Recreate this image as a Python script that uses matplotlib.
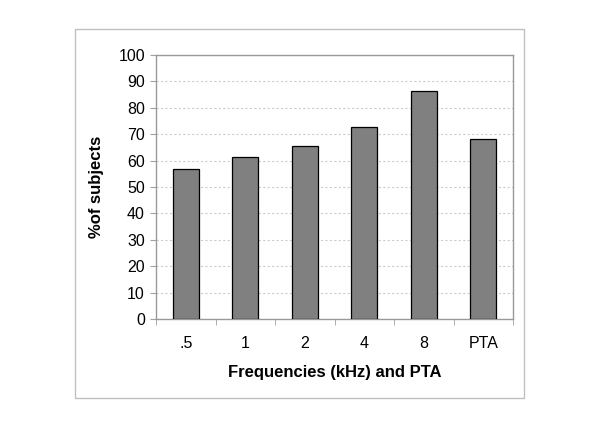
import matplotlib
matplotlib.use("Agg")
import matplotlib.pyplot as plt
from matplotlib.patches import Rectangle
import numpy as np

plt.rcParams["font.family"] = ["Liberation Sans", "DejaVu Sans"]

categories = [".5", "1", "2", "4", "8", "PTA"]
pct_subjects = [56.8, 61.2, 65.5, 72.6, 86.4, 68.2]
y_ticks = list(range(0, 101, 10))

fig = plt.figure(figsize=(6.0, 4.23), dpi=100)

# outer light frame round the chart
fig.patches.append(Rectangle((75 / 600, 1 - 398 / 423), 449 / 600, 369 / 423,
                             transform=fig.transFigure, fill=False,
                             edgecolor="#c0c0c0", lw=1.0))

ax = fig.add_axes([156 / 600, 1 - 319 / 423, 357 / 600, 264 / 423])
x = np.arange(len(categories))
ax.bar(x, pct_subjects, width=0.43, color="#808080", edgecolor="black",
       linewidth=0.9, zorder=3)

ax.set_xlim(-0.5, len(categories) - 0.5)
ax.set_ylim(0, 100)
ax.set_yticks(y_ticks)
ax.set_yticklabels([str(t) for t in y_ticks], fontsize=11.5)
ax.set_xticks(x)
ax.set_xticklabels(categories, fontsize=11.5)
ax.set_xticks(np.arange(-0.5, len(categories), 1), minor=True)
ax.tick_params(axis="x", which="major", length=0, pad=12)
ax.tick_params(axis="x", which="minor", length=4, color="#a0a0a0")
ax.tick_params(axis="y", length=4, color="#a0a0a0", pad=4)

ax.yaxis.grid(True, ls=(0, (2, 2)), color="#cccccc", lw=0.8, zorder=0)
for s in ax.spines.values():
    s.set_color("#999999")
    s.set_linewidth(1.0)

ax.set_xlabel("Frequencies (kHz) and PTA", fontsize=12, fontweight="bold", labelpad=10)
ax.set_ylabel("%of subjects", fontsize=12, fontweight="bold", labelpad=10)

fig.savefig("out.png", dpi=100)
